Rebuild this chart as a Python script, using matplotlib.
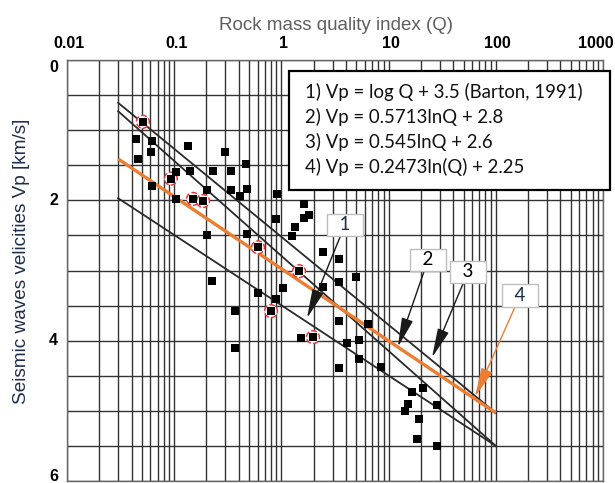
import numpy as np
import matplotlib
matplotlib.use("Agg")
import matplotlib.pyplot as plt
import matplotlib.transforms as mtransforms
from matplotlib.patches import Rectangle

# ---------------- data ----------------
x_tick_values = [0.01, 0.1, 1, 10, 100, 1000]
x_tick_labels = ["0.01", "0.1", "1", "10", "100", "1000"]
y_tick_values = [0, 2, 4, 6]
y_tick_labels = ["0", "2", "4", "6"]

line_q = [0.03, 100]
line1_vp = [1.97, 5.50]
line2_vp = [0.73, 5.50]
line3_vp = [0.61, 5.03]
line4_vp = [1.41, 5.03]

points_q = [0.044, 0.062, 0.135, 0.061, 0.298, 0.046, 0.468, 0.103, 0.140, 0.230,
            0.339, 0.062, 0.202, 0.339, 0.478, 0.411, 0.103, 0.910, 1.625, 1.807,
            1.625, 0.891, 1.340, 1.256, 0.202, 0.478, 2.42, 3.48, 0.223, 4.97,
            3.48, 2.42, 1.035, 0.605, 0.891, 0.369, 3.48, 6.43, 0.369, 1.52,
            4.09, 5.24, 5.24, 3.48, 8.49, 16.5, 20.9, 15.2, 14.2, 28.3,
            19.2, 18.4, 28.3]
points_vp = [1.13, 1.16, 1.23, 1.31, 1.31, 1.41, 1.48, 1.60, 1.58, 1.58,
             1.58, 1.79, 1.85, 1.85, 1.84, 1.94, 1.98, 1.91, 2.05, 2.21,
             2.25, 2.26, 2.38, 2.51, 2.49, 2.48, 2.74, 2.83, 3.15, 3.09,
             3.16, 3.23, 3.25, 3.32, 3.41, 3.58, 3.72, 3.76, 4.10, 3.96,
             4.03, 3.99, 4.26, 4.39, 4.37, 4.73, 4.67, 4.90, 5.00, 4.91,
             5.11, 5.40, 5.50]

marked_q = [0.051, 0.093, 0.150, 0.186, 0.605, 1.46, 0.800, 1.97]
marked_vp = [0.88, 1.69, 1.98, 2.01, 2.67, 3.01, 3.58, 3.95]

equations = ["1) Vp = log Q + 3.5 (Barton, 1991)",
             "2) Vp = 0.5713lnQ + 2.8",
             "3) Vp = 0.545lnQ + 2.6",
             "4) Vp = 0.2473ln(Q) + 2.25"]

callout_labels = ["1", "2", "3", "4"]
callout_text_q = [3.92, 23.3, 55.0, 168.0]
callout_text_vp = [2.35, 2.85, 3.02, 3.36]
callout_tip_q = [1.73, 12.2, 25.4, 64.0]
callout_tip_vp = [3.68, 4.09, 4.24, 4.80]

# ---------------- figure ----------------
W, H = 615, 483
fig = plt.figure(figsize=(W / 100, H / 100), dpi=100)
L, R, T, B = 67, 603, 60, 481
ax = fig.add_axes([L / W, 1 - B / H, (R - L) / W, (B - T) / H])

ax.set_xscale("log")
ax.set_xlim(0.01, 1000)
ax.set_ylim(6, 0)

minor_x = [m * 10.0 ** k for k in range(-2, 3) for m in range(2, 10)]
ax.set_xticks(x_tick_values)
ax.set_xticks(minor_x, minor=True)
ax.set_yticks(y_tick_values)
ax.set_yticks(np.arange(0, 6.01, 0.5), minor=True)
ax.xaxis.set_major_formatter(matplotlib.ticker.NullFormatter())
ax.xaxis.set_minor_formatter(matplotlib.ticker.NullFormatter())
ax.yaxis.set_major_formatter(matplotlib.ticker.NullFormatter())
ax.tick_params(which="both", length=0)

ax.grid(which="both", color="#333333", linewidth=1.0)
ax.set_axisbelow(True)
for sp in ax.spines.values():
    sp.set_color("#666666")
    sp.set_linewidth(1.0)

# tick labels drawn as text (with small pixel offsets like the reference)
px = lambda dx, dy: mtransforms.ScaledTranslation(dx / 100, dy / 100, fig.dpi_scale_trans)
xtr = mtransforms.blended_transform_factory(ax.transData, ax.transAxes)
for v, lab in zip(x_tick_values, x_tick_labels):
    dx = -7 if lab == "1000" else 2
    ax.text(v, 1.0, lab, transform=xtr + px(dx, 9), ha="center", va="bottom",
            fontsize=11.5, fontweight="bold", family="Liberation Sans",
            color="black", clip_on=False)
ytr = mtransforms.blended_transform_factory(ax.transAxes, ax.transData)
for v, lab in zip(y_tick_values, y_tick_labels):
    dy = {"0": -7, "6": 4}.get(lab, 0)
    ax.text(0.0, v, lab, transform=ytr + px(-9, dy), ha="right", va="center",
            fontsize=11.5, fontweight="bold", family="Liberation Sans",
            color="black", clip_on=False)

# lines
ax.plot(line_q, line1_vp, color="#2a2a2a", lw=1.3, zorder=3)
ax.plot(line_q, line2_vp, color="#2a2a2a", lw=1.3, zorder=3)
ax.plot(line_q, line3_vp, color="#2a2a2a", lw=1.3, zorder=3)
ax.plot(line_q, line4_vp, color="#ED7D31", lw=2.4, zorder=4, solid_capstyle="butt")

# points
ax.scatter(marked_q, marked_vp, s=85, marker="o", facecolors="white",
           edgecolors="#e8383d", linewidths=1.1, linestyle="--", zorder=5)
ax.scatter(points_q + marked_q, points_vp + marked_vp, s=26, marker="s",
           color="black", linewidths=0, zorder=6)

# callouts
for i, lab in enumerate(callout_labels):
    col = "#ED7D31" if lab == "4" else "#1a1a1a"
    tcol = "#1f2d4d" if lab in ("1", "4") else "black"
    ax.annotate("  " + lab + "  ", xy=(callout_tip_q[i], callout_tip_vp[i]),
                xytext=(callout_text_q[i], callout_text_vp[i]),
                ha="center", va="center", fontsize=13.5, family="Lato", color=tcol,
                bbox=dict(boxstyle="square,pad=0.15", fc="white", ec="#bdbdbd", lw=1.0),
                arrowprops=dict(arrowstyle="-|>,head_length=1.0,head_width=0.2",
                                mutation_scale=18, color=col, lw=1.0,
                                shrinkA=0, shrinkB=0),
                zorder=7)

# equation box
fig.add_artist(Rectangle((289 / W, 1 - 190 / H), 321 / W, 119 / H,
                         transform=fig.transFigure, facecolor="white",
                         edgecolor="black", linewidth=1.6, zorder=10))
for i, eq in enumerate(equations):
    fig.text(305 / W, 1 - (92 + 25 * i) / H, eq, ha="left", va="center",
             fontsize=13.4, family="Lato", color="#111111", zorder=11)

# titles
fig.text(336 / W, 1 - 25 / H, "Rock mass quality index (Q)", ha="center",
         va="center", fontsize=13.5, family="Liberation Sans", color="#5f5f5f")
fig.text(22 / W, 1 - 261 / H, "Seismic waves velicities Vp [km/s]", ha="center",
         va="center", rotation=90, fontsize=13.7, family="Liberation Sans",
         color="#1f2d4d")

fig.savefig("out.png", dpi=100)
